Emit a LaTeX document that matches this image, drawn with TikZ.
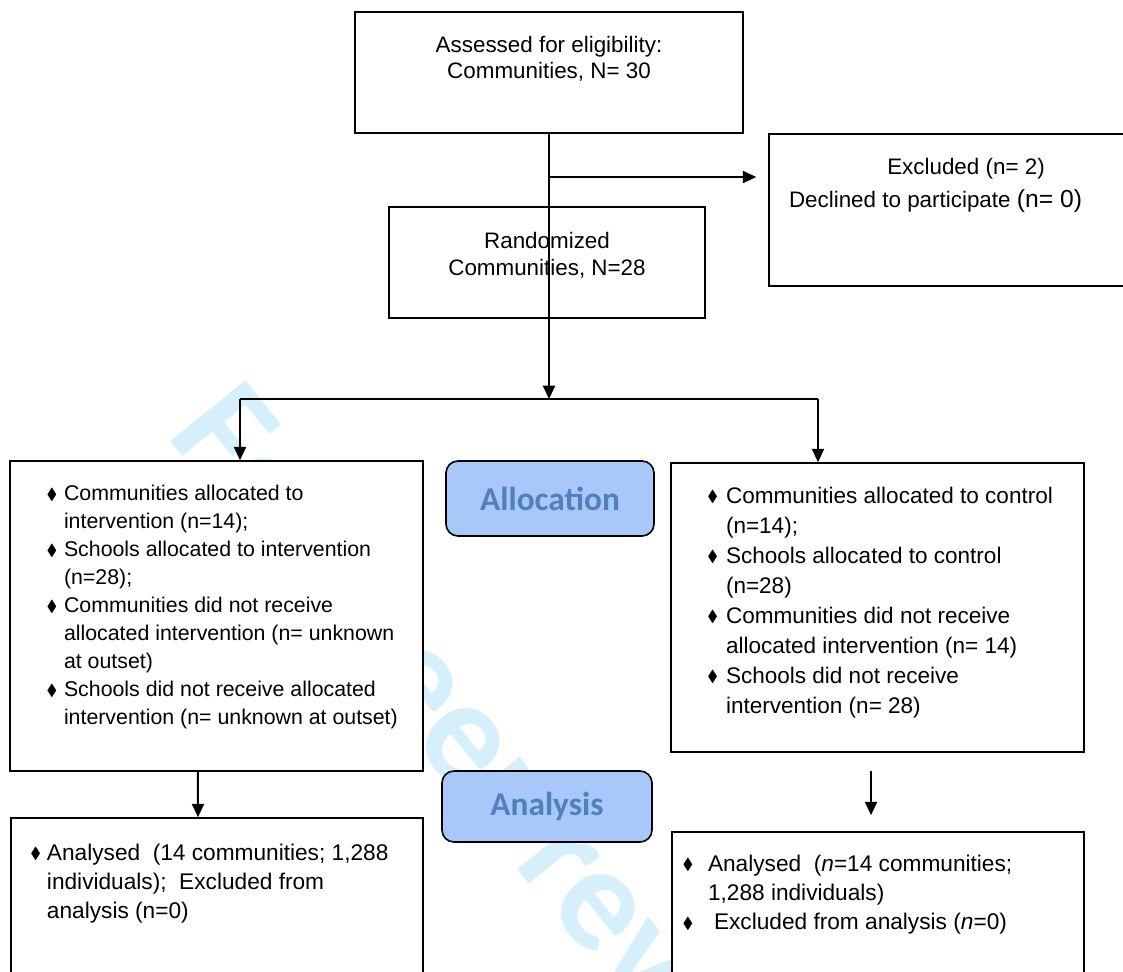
\documentclass[tikz,border=0pt]{standalone}
\usepackage{amssymb}
\usepackage{fontspec}
\setmainfont{Liberation Sans}
\newfontfamily\labelfont{Carlito}
\usetikzlibrary{arrows.meta}
\definecolor{lblue}{RGB}{168,200,250}
\definecolor{lbluetext}{RGB}{79,129,189}
\definecolor{wmark}{RGB}{214,240,251}
\newcommand{\dmd}{\raisebox{.05em}{\fontsize{12}{12}\selectfont$\blacklozenge$}}
\newcommand{\itm}[1][5pt]{\leavevmode\llap{\dmd\hspace{#1}}}
\newcommand{\boxbody}[3]{\parbox[c][#2][t]{#1}{#3}}
\tikzset{
  box/.style={draw, line width=1.2pt, fill=white, inner sep=0pt},
  phase/.style={draw, line width=1.2pt, fill=lblue, rounded corners=9pt, inner sep=0pt, text=lbluetext, font=\labelfont\bfseries\fontsize{25}{30}\selectfont},
  arr/.style={line width=1.5pt, -{Triangle[length=10pt,width=9pt]}},
  ln/.style={line width=1.5pt}
}

\begin{document}
\begin{tikzpicture}[x=0.75pt,y=-0.75pt]
\useasboundingbox (0,0) rectangle (1123,971);
\clip (0,0) rectangle (1123,971);
\node [anchor=base west, rotate=-51, text=wmark, font=\labelfont\bfseries\fontsize{112}{112}\selectfont] (wm) at (163,432) {For peer review};

\node [box] (assess) at (549,72.5) {\boxbody{291pt}{90.75pt}{\centering\fontsize{16.8}{19.5}\selectfont
  \rule{0pt}{30pt}Assessed for eligibility:\\Communities, N= 30}};
\node [box] (excl) at (966,210) {\boxbody{295.5pt}{114pt}{\centering\fontsize{16.8}{24.75}\selectfont
  \rule{0pt}{30pt}Excluded (n= 2)\\
  \makebox[\linewidth][l]{\hspace{15pt}Declined to participate {\fontsize{18.5}{20}\selectfont(n= 0)}}}};
\node [box] (rand) at (547,262.5) {\boxbody{237pt}{83.25pt}{\centering\fontsize{16.8}{20.25}\selectfont
  \rule{0pt}{30.75pt}Randomized\\Communities, N=28}};

\node [box] (intv) at (216.5,616) {\boxbody{309.75pt}{232.5pt}{\raggedright\leftskip=40.5pt\fontsize{16}{21}\selectfont
  \itm\rule{0pt}{29.6pt}Communities allocated to\\intervention (n=14);\par
  \itm Schools allocated to intervention\\(n=28);\par
  \itm Communities did not receive\\allocated intervention (n= unknown\\at outset)\par
  \itm Schools did not receive allocated\\intervention (n= unknown at outset)}};
\node [box] (ctrl) at (877.5,607.5) {\boxbody{309.75pt}{216.75pt}{\raggedright\leftskip=41.25pt\fontsize{16.9}{22.5}\selectfont
  \itm[6pt]\rule{0pt}{30pt}Communities allocated to control\\(n=14);\par
  \itm[6pt]Schools allocated to control\\(n=28)\par
  \itm[6pt]Communities did not receive\\allocated intervention (n= 14)\par
  \itm[6pt]Schools did not receive\\intervention (n= 28)}};
\node [phase, minimum width=156pt, minimum height=56.25pt] (alloc) at (550,498.5) {Allocation};
\node [phase, minimum width=157.5pt, minimum height=53.25pt] (anal) at (547,806.5) {Analysis};

\node [box] (resI) at (217,904) {\boxbody{309pt}{129pt}{\raggedright\leftskip=27pt\fontsize{17}{21.75}\selectfont
  \itm[4.5pt]\rule{0pt}{31.5pt}Analysed\ \ (14 communities; 1,288\\individuals);\ \ Excluded from\\analysis (n=0)}};
\node [box] (resC) at (878,911) {\boxbody{309pt}{118.5pt}{\raggedright\leftskip=27pt\fontsize{17}{22}\selectfont
  \itm[11pt]\rule{0pt}{29.25pt}Analysed\ \ (\textit{n}=14 communities;\\1,288 individuals)\par
  \itm[11pt]\hspace{4.5pt}Excluded from analysis (\textit{n}=0)}};

\coordinate (fork) at (549,399);
\coordinate (forkL) at (240,399);
\coordinate (forkR) at (818,399);
\coordinate (branch) at (549,177);
\coordinate (ctrlout) at (871,771);

\draw [arr] (assess.south) -- (fork);
\draw [arr, shorten >=9pt] (branch) -- (excl.west |- branch);
\draw [ln] (forkL) -- (forkR);
\draw [arr] (forkL) -- (intv.north -| forkL);
\draw [arr] (forkR) -- (ctrl.north -| forkR);
\draw [arr] ([xshift=-13.9pt]intv.south) -- ([xshift=-14.25pt]resI.north);
\draw [arr, shorten >=12pt] (ctrlout) -- (ctrlout |- resC.north);
\end{tikzpicture}
\end{document}
